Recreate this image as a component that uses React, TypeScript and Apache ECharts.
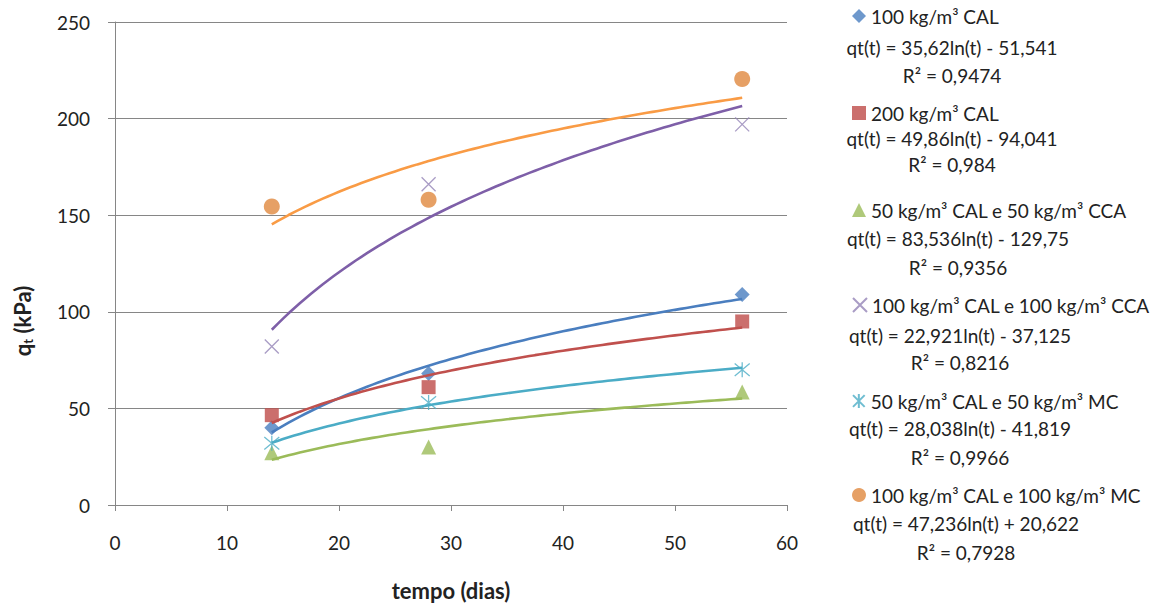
import React, { useEffect, useRef } from "react";
import * as echarts from "echarts";

// ---- data ----
const days = [14, 28, 56];
const seriesNames = [
  "100 kg/m³ CAL",
  "200 kg/m³ CAL",
  "50 kg/m³ CAL e 50 kg/m³ CCA",
  "100 kg/m³ CAL e 100 kg/m³ CCA",
  "50 kg/m³ CAL e 50 kg/m³ MC",
  "100 kg/m³ CAL e 100 kg/m³ MC",
];
const cal100 = [40, 68, 109];
const cal200 = [46.5, 61, 95];
const cal50cca50 = [27, 30, 58.5];
const cal100cca100 = [82, 166, 197];
const cal50mc50 = [32, 53, 70];
const cal100mc100 = [154.5, 158, 220.5];
const seriesValues = [cal100, cal200, cal50cca50, cal100cca100, cal50mc50, cal100mc100];

const equationTexts = [
  "qt(t) = 35,62ln(t) - 51,541",
  "qt(t) = 49,86ln(t) - 94,041",
  "qt(t) = 83,536ln(t) - 129,75",
  "qt(t) = 22,921ln(t) - 37,125",
  "qt(t) = 28,038ln(t) - 41,819",
  "qt(t) = 47,236ln(t) + 20,622",
];
const r2Texts = ["R² = 0,9474", "R² = 0,984", "R² = 0,9356", "R² = 0,8216", "R² = 0,9966", "R² = 0,7928"];

// logarithmic trend line drawn with each series (slope, intercept as drawn in the picture)
const trendSlope = [49.86, 35.62, 22.921, 83.536, 28.038, 47.236];
const trendIntercept = [-94.041, -51.541, -37.125, -129.75, -41.819, 20.622];

const xMin = 0, xMax = 60, xStep = 10;
const yMin = 0, yMax = 250, yStep = 50;

// ---- styles ----
const markerColors = ["#4A7EBF", "#BE4B48", "#9BBB59", "#9383B6", "#4BACC6", "#E0883E"];
const lineColors = ["#4A7EBF", "#C0504D", "#9BBB59", "#7E5FA8", "#4BACC6", "#F99B45"];
const CROSS = "path://M0,0 L10,10 M10,0 L0,10";
const STAR = "path://M0,0 L10,10 M10,0 L0,10 M5,-1 L5,11";
const symbols = ["diamond", "rect", "triangle", CROSS, STAR, "circle"];
const symbolSizes = [15, 14, 15, 14, 15, 16];
const FONT = "Lato, 'Open Sans', sans-serif";
const TEXT = "#222222";
const GRID = "#868686";

const nameY = [16, 113, 210, 305, 401, 495];
const eqY = [47, 138, 238, 335, 428, 523];
const r2Y = [75, 164, 267, 362, 457, 552];
const eqX = [952, 952, 958, 960, 960, 966];

export default function App() {
  const ref = useRef<HTMLDivElement>(null);
  useEffect(() => {
    if (!ref.current) return;
    const chart = echarts.init(ref.current, undefined, { renderer: "svg" });

    const series: any[] = [];
    seriesNames.forEach((name, i) => {
      const stroke = symbols[i] === CROSS || symbols[i] === STAR;
      series.push({
        type: "scatter",
        name,
        data: days.map((d, k) => [d, seriesValues[i][k]]),
        symbol: symbols[i],
        symbolSize: symbolSizes[i],
        itemStyle: stroke
          ? { color: "rgba(0,0,0,0)", borderColor: markerColors[i], borderWidth: 1.3 }
          : { color: markerColors[i] },
        z: 2,
      });
    });
    seriesNames.forEach((name, i) => {
      const pts: number[][] = [];
      for (let t = days[0]; t <= days[days.length - 1] + 1e-9; t += 0.5) {
        pts.push([t, trendSlope[i] * Math.log(t) + trendIntercept[i]]);
      }
      series.push({
        type: "line",
        name: name + " (tendência)",
        data: pts,
        showSymbol: false,
        symbol: "none",
        lineStyle: { color: lineColors[i], width: 2.6 },
        silent: true,
        z: 3,
      });
    });

    const legends = seriesNames.map((name, i) => ({
      data: [name],
      left: 852,
      top: nameY[i] - 10,
      padding: 0,
      orient: "vertical",
      itemWidth: 14,
      itemHeight: 14,
      selectedMode: false,
      textStyle: { fontFamily: FONT, fontSize: 19, color: TEXT, lineHeight: 20 },
    }));

    const graphics: any[] = [];
    equationTexts.forEach((t, i) => {
      graphics.push({
        type: "text",
        x: eqX[i],
        y: eqY[i],
        style: { text: t, fontFamily: FONT, fontSize: 19, fill: TEXT, align: "center", verticalAlign: "middle" },
      });
      graphics.push({
        type: "text",
        x: eqX[i],
        y: r2Y[i],
        style: { text: r2Texts[i], fontFamily: FONT, fontSize: 19, fill: TEXT, align: "center", verticalAlign: "middle" },
      });
    });
    graphics.push({
      type: "text",
      x: 22,
      y: 321,
      rotation: Math.PI / 2,
      style: {
        text: "{a|q}{b|t}{a| (kPa)}",
        align: "center",
        verticalAlign: "middle",
        fill: TEXT,
        font: "bold 22px Lato",
        rich: {
          a: { fontFamily: FONT, fontSize: 22, fontWeight: "bold", fill: TEXT, lineHeight: 24 },
          b: { fontFamily: FONT, fontSize: 13, fontWeight: "bold", fill: TEXT, lineHeight: 24, verticalAlign: "bottom", padding: [7, 0, 0, 0] },
        },
      },
    });

    chart.setOption({
      animation: false,
      backgroundColor: "#ffffff",
      grid: { left: 115, right: 368, top: 22, bottom: 99, containLabel: false, outerBoundsMode: "none" },
      legend: legends,
      xAxis: {
        type: "value",
        min: xMin,
        max: xMax,
        interval: xStep,
        name: "tempo (dias)",
        nameLocation: "middle",
        nameGap: 73,
        nameTextStyle: { fontFamily: FONT, fontSize: 22, fontWeight: "bold", color: TEXT, lineHeight: 24 },
        axisLine: { show: true, lineStyle: { color: GRID, width: 1 } },
        axisTick: { show: true, length: 6, lineStyle: { color: GRID } },
        axisLabel: { margin: 28, fontFamily: FONT, fontSize: 19, color: TEXT },
        splitLine: { show: false },
      },
      yAxis: {
        type: "value",
        min: yMin,
        max: yMax,
        interval: yStep,
        axisLine: { show: true, lineStyle: { color: GRID, width: 1 } },
        axisTick: { show: true, length: 7, lineStyle: { color: GRID } },
        axisLabel: { margin: 25, fontFamily: FONT, fontSize: 19, color: TEXT },
        splitLine: { show: true, lineStyle: { color: GRID, width: 1 } },
      },
      graphic: graphics,
      series,
    });
    return () => chart.dispose();
  }, []);
  return (
    <div
      ref={ref}
      style={{ position: "fixed", left: 0, top: 0, width: 1155, height: 604, background: "#fff" }}
    />
  );
}
